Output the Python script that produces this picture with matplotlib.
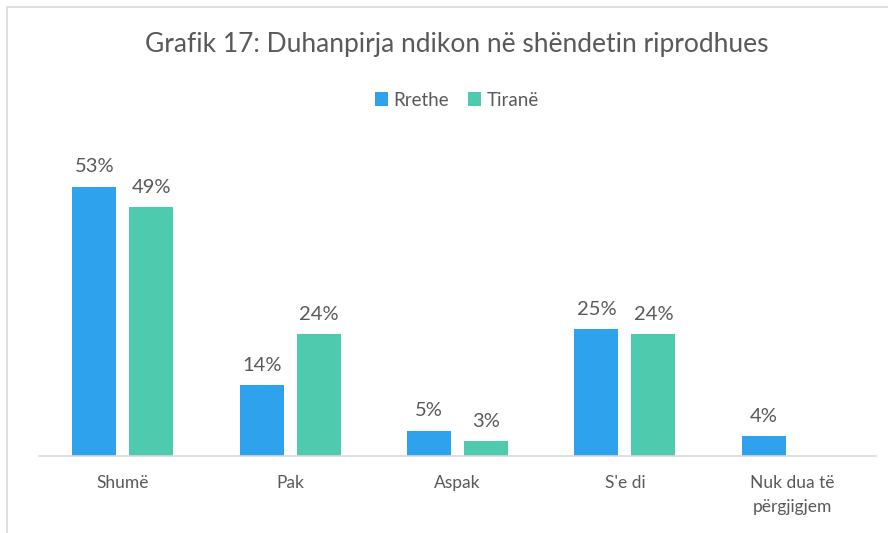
import matplotlib.pyplot as plt
import numpy as np
from matplotlib.patches import Rectangle

categories = ["Shumë", "Pak", "Aspak", "S'e di", "Nuk dua të\npërgjigjem"]
rrethe = [53, 14, 5, 25, 4]
tirane = [49, 24, 3, 24, None]

plt.rcParams['font.family'] = ['Lato', 'DejaVu Sans']
textColor = '#595959'
blue = '#2EA2EC'
teal = '#4ECBAE'

W, H = 888, 533
fig = plt.figure(figsize=(W / 100, H / 100), dpi=100)

# light frame like the original chart area (runs off right and bottom)
fig.patches.append(Rectangle((7 / W, -0.2), 2, 1.2 - 7 / H, transform=fig.transFigure,
                             fill=False, edgecolor='#D9D9D9', linewidth=1.2))

# axes placed in pixel terms: baseline at y=456, x from 39 to 876
ax = fig.add_axes([39 / W, (H - 456) / H, (876 - 39) / W, (456 - 151) / H])

x = np.arange(len(categories))
width = 0.263
offset = 0.17

b1 = ax.bar(x - offset, rrethe, width, color=blue, label='Rrethe')
tVals = [v if v is not None else 0 for v in tirane]
b2 = ax.bar(x + offset, tVals, width, color=teal, label='Tiranë')

for rect, v in zip(b1, rrethe):
    ax.annotate(f"{v}%", (rect.get_x() + rect.get_width() / 2, v), xytext=(0, 8),
                textcoords='offset points', ha='center', va='bottom', fontsize=14.5, color=textColor)
for rect, v in zip(b2, tirane):
    if v is None:
        continue
    ax.annotate(f"{v}%", (rect.get_x() + rect.get_width() / 2, v), xytext=(0, 8),
                textcoords='offset points', ha='center', va='bottom', fontsize=14.5, color=textColor)

ax.set_xlim(-0.5, len(categories) - 0.5)
ax.set_ylim(0, 60)
ax.set_xticks(x)
ax.set_xticklabels(categories, fontsize=12.5, color=textColor, linespacing=1.6)
ax.tick_params(axis='x', length=0, pad=14)
ax.set_yticks([])
for s in ['top', 'right', 'left']:
    ax.spines[s].set_visible(False)
ax.spines['bottom'].set_color('#D9D9D9')
ax.spines['bottom'].set_linewidth(1.2)

fig.text(457 / W, 1 - 45 / H, "Grafik 17: Duhanpirja ndikon në shëndetin riprodhues",
         ha='center', va='center', fontsize=19, color=textColor)
fig.legend(handles=[b1, b2], loc='center', bbox_to_anchor=(457 / W, 1 - 100 / H), ncol=2,
           frameon=False, fontsize=13.5, handlelength=0.7, handleheight=0.7,
           handletextpad=0.3, columnspacing=1.0, labelcolor=textColor)

fig.savefig('out.png', dpi=100)
